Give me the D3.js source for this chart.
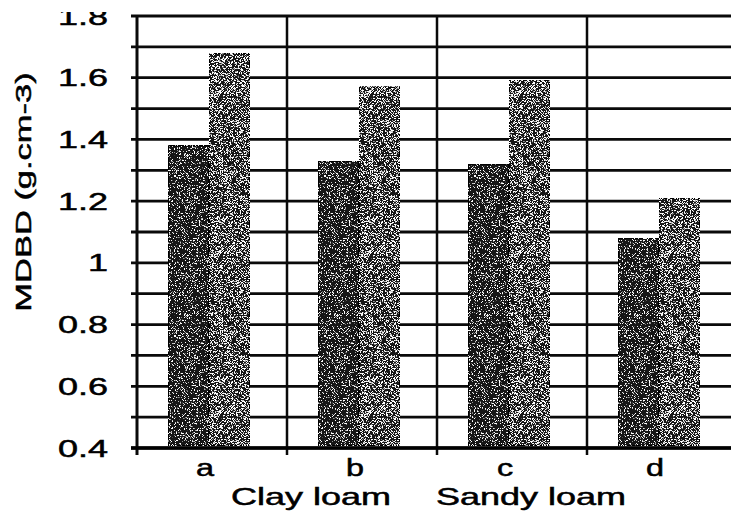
<!DOCTYPE html>
<html><head><meta charset="utf-8">
<script src="https://cdn.jsdelivr.net/npm/d3@7"></script>
<style>body{margin:0;background:#fff}svg{display:block}text{font-family:"Liberation Sans",Arial,sans-serif;fill:#000;stroke:#000;stroke-width:0.5px}</style>
</head><body>
<svg id="c" width="731" height="513"></svg>
<script>
const categories = ["a","b","c","d"];
const series = ["s1","s2"];
const s1 = [1.38, 1.33, 1.32, 1.08];
const s2 = [1.68, 1.57, 1.59, 1.21];
const yTickLabels = [0.4,0.6,0.8,1.0,1.2,1.4,1.6,1.8];
const yGrid = [0.4,0.5,0.6,0.7,0.8,0.9,1.0,1.1,1.2,1.3,1.4,1.5,1.6,1.7,1.8];
const groupLabels = [{text:"Clay loam", at:"b", off:24},{text:"Sandy loam", at:"d", off:-56}];

const svg = d3.select("#c");
const defs = svg.append("defs");
function speckFilter(id, thr, seed){
  const f = defs.append("filter").attr("id",id).attr("x",0).attr("y",0).attr("width","100%").attr("height","100%");
  f.append("feTurbulence").attr("type","fractalNoise").attr("baseFrequency",1.6).attr("numOctaves",1).attr("seed",seed).attr("result","t");
  f.append("feColorMatrix").attr("in","t").attr("type","matrix")
   .attr("values",`0 0 0 0 1  0 0 0 0 1  0 0 0 0 1  14 0 0 0 ${-14*thr}`).attr("result","w");
  f.append("feComposite").attr("in","w").attr("in2","SourceGraphic").attr("operator","in").attr("result","wc");
  const m = f.append("feMerge"); m.append("feMergeNode").attr("in","SourceGraphic"); m.append("feMergeNode").attr("in","wc");
}
speckFilter("sp1", 0.58, 3);
speckFilter("sp2", 0.52, 7);

const x0 = d3.scaleBand().domain(categories).range([137,737]).padding(0);
const x1 = d3.scaleBand().domain(series).range([34,116]);
const y = d3.scaleLinear().domain([0.4,1.8]).range([448,16]);
const barShift = -3;

// horizontal grid
svg.append("g").selectAll("line").data(yGrid).join("line")
 .attr("x1",131).attr("x2",731).attr("y1",d=>y(d)).attr("y2",d=>y(d))
 .attr("stroke","#0a0a0a").attr("stroke-width",d=>Math.abs(d-1.8)<1e-6?3:2.8);
// vertical grid at band boundaries
svg.append("g").selectAll("line").data(categories).join("line")
 .attr("x1",d=>x0(d)).attr("x2",d=>x0(d)).attr("y1",y(1.8)).attr("y2",y(0.4)+7)
 .attr("stroke","#0a0a0a").attr("stroke-width",d=>d==="a"?3:2.5);

// bars
const data = categories.map((c,i)=>({c, vals:[{k:"s1",v:s1[i]},{k:"s2",v:s2[i]}]}));
const filt = {s1:"url(#sp1)", s2:"url(#sp2)"};
const g = svg.append("g").selectAll("g").data(data).join("g")
 .attr("transform",d=>`translate(${x0(d.c)+barShift},0)`);
g.selectAll("rect").data(d=>d.vals).join("rect")
 .attr("x",d=>x1(d.k)).attr("width",x1.bandwidth())
 .attr("y",d=>y(d.v)).attr("height",d=>y(0.4)-2-y(d.v))
 .attr("fill","#141414").attr("filter",d=>filt[d.k])
 .attr("stroke","#000").attr("stroke-width",1.5);

// bottom axis line
svg.append("line").attr("x1",131).attr("x2",731).attr("y1",y(0.4)).attr("y2",y(0.4))
 .attr("stroke","#000").attr("stroke-width",3.4);

// y tick labels
const clip = defs.append("clipPath").attr("id","cl");
clip.append("rect").attr("x",0).attr("y",12).attr("width",731).attr("height",501);
const yl = svg.append("g").attr("clip-path","url(#cl)");
yl.selectAll("g").data(yTickLabels).join("g")
 .attr("transform",d=>`translate(108,${y(d)}) scale(1.5,1)`)
 .append("text").attr("text-anchor","end").attr("dy","0.36em").attr("font-size",24)
 .text(d=>d3.format("")(+d.toFixed(1)));

// x tick labels
svg.append("g").selectAll("g").data(categories).join("g")
 .attr("transform",d=>`translate(${x0(d)+x0.bandwidth()/2-7},476) scale(1.35,1)`)
 .append("text").attr("text-anchor","middle").attr("font-size",24).text(d=>d);

// group labels
svg.append("g").selectAll("g").data(groupLabels).join("g")
 .attr("transform",d=>`translate(${x0(d.at)+d.off},505) scale(1.5,1)`)
 .append("text").attr("text-anchor","middle").attr("font-size",24).text(d=>d.text);

// y title
svg.append("g").attr("transform","translate(31,192) rotate(-90) scale(1.5,1)")
 .append("text").attr("text-anchor","middle").attr("font-size",23).text("MDBD (g.cm-3)");
</script>
</body></html>
